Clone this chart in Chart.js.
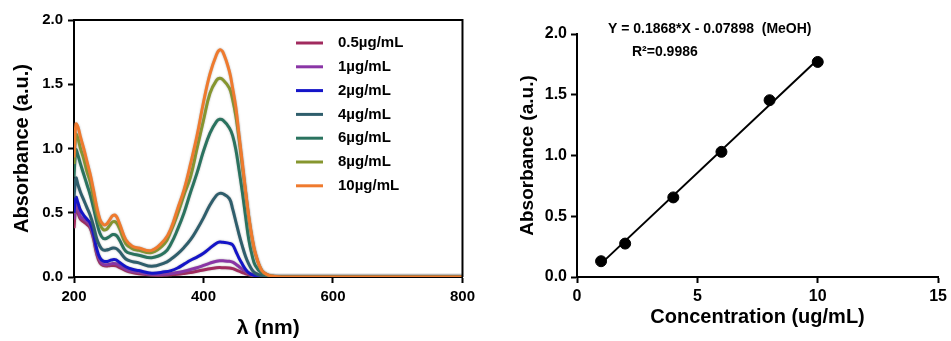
<!DOCTYPE html>
<html>
<head>
<meta charset="utf-8">
<script src="https://cdn.jsdelivr.net/npm/chart.js@4/dist/chart.umd.min.js"></script>
<style>
  html, body { margin: 0; padding: 0; background: #fff; }
  #wrap { position: relative; width: 951px; height: 341px; }
  .box { position: absolute; top: 0; height: 341px; }
  #left { left: 0; width: 480px; }
  #right { left: 480px; width: 471px; }
</style>
</head>
<body>
<div id="wrap">
  <div class="box" id="left"><canvas id="spectraChart"></canvas></div>
  <div class="box" id="right"><canvas id="calibChart"></canvas></div>
</div>
<script>
// Wavelength grid (nm) shared by all spectra
const wavelengths = [200, 203, 206, 210, 215, 220, 225, 230, 235, 240,
  245, 250, 255, 260, 265, 270, 280, 290, 300, 320,
  340, 350, 360, 370, 380, 390, 400, 410, 420, 425,
  430, 440, 445, 450, 455, 460, 465, 470, 475, 480,
  490, 500, 510, 520, 600, 700, 800];

// Absorbance spectra
const abs05 = [0.38, 0.55, 0.50, 0.45, 0.43, 0.41, 0.38, 0.30, 0.18, 0.11,
  0.09, 0.085, 0.088, 0.09, 0.088, 0.075, 0.05, 0.035, 0.025, 0.015,
  0.015, 0.018, 0.022, 0.028, 0.035, 0.045, 0.055, 0.065, 0.072, 0.073,
  0.072, 0.07, 0.065, 0.055, 0.045, 0.035, 0.025, 0.018, 0.012, 0.008,
  0.004, 0.002, 0.001, 0, 0, 0, 0];
const abs1 = [0.45, 0.57, 0.53, 0.47, 0.45, 0.43, 0.40, 0.32, 0.20, 0.13,
  0.10, 0.096, 0.10, 0.105, 0.103, 0.09, 0.06, 0.045, 0.036, 0.02,
  0.022, 0.028, 0.035, 0.045, 0.058, 0.072, 0.09, 0.108, 0.123, 0.127,
  0.126, 0.122, 0.115, 0.10, 0.08, 0.06, 0.045, 0.03, 0.02, 0.013,
  0.006, 0.003, 0.001, 0, 0, 0, 0];
const abs2 = [0.50, 0.62, 0.58, 0.52, 0.48, 0.45, 0.42, 0.34, 0.22, 0.15,
  0.125, 0.12, 0.127, 0.135, 0.133, 0.115, 0.08, 0.06, 0.05, 0.03,
  0.04, 0.05, 0.07, 0.10, 0.13, 0.155, 0.185, 0.225, 0.262, 0.272,
  0.27, 0.262, 0.25, 0.20, 0.145, 0.10, 0.06, 0.032, 0.018, 0.01,
  0.005, 0.002, 0.001, 0, 0, 0, 0];
const abs4 = [0.62, 0.77, 0.72, 0.66, 0.60, 0.54, 0.48, 0.40, 0.30, 0.24,
  0.21, 0.21, 0.217, 0.225, 0.222, 0.20, 0.14, 0.12, 0.11, 0.083,
  0.11, 0.14, 0.18, 0.23, 0.29, 0.37, 0.46, 0.56, 0.635, 0.651,
  0.648, 0.61, 0.53, 0.43, 0.33, 0.24, 0.16, 0.10, 0.055, 0.03,
  0.01, 0.004, 0.001, 0, 0, 0, 0];
const abs6 = [0.78, 0.99, 0.95, 0.88, 0.80, 0.72, 0.64, 0.54, 0.43, 0.34,
  0.30, 0.30, 0.315, 0.33, 0.325, 0.29, 0.20, 0.18, 0.17, 0.15,
  0.19, 0.26, 0.37, 0.50, 0.66, 0.81, 0.98, 1.12, 1.21, 1.227,
  1.22, 1.16, 1.10, 0.99, 0.83, 0.66, 0.47, 0.29, 0.17, 0.09,
  0.03, 0.008, 0.002, 0, 0, 0, 0];
const abs8 = [0.88, 1.11, 1.08, 1.00, 0.92, 0.82, 0.74, 0.62, 0.50, 0.41,
  0.37, 0.37, 0.40, 0.43, 0.425, 0.38, 0.26, 0.22, 0.207, 0.19,
  0.26, 0.36, 0.49, 0.64, 0.78, 1.00, 1.22, 1.43, 1.53, 1.546,
  1.535, 1.47, 1.38, 1.25, 1.07, 0.86, 0.66, 0.46, 0.30, 0.18,
  0.05, 0.015, 0.004, 0, 0, 0, 0];
const abs10 = [0.93, 1.19, 1.17, 1.09, 1.00, 0.90, 0.80, 0.68, 0.55, 0.45,
  0.41, 0.41, 0.445, 0.478, 0.475, 0.42, 0.29, 0.24, 0.225, 0.207,
  0.29, 0.38, 0.53, 0.68, 0.88, 1.10, 1.36, 1.58, 1.73, 1.767,
  1.75, 1.60, 1.47, 1.32, 1.10, 0.89, 0.67, 0.47, 0.31, 0.19,
  0.05, 0.015, 0.004, 0, 0, 0, 0];

const seriesLabels = ['0.5µg/mL', '1µg/mL', '2µg/mL', '4µg/mL', '6µg/mL', '8µg/mL', '10µg/mL'];
const seriesValues = [abs05, abs1, abs2, abs4, abs6, abs8, abs10];
const seriesColors = ['#a12a5e', '#8a35a6', '#1414c8', '#2f5e6c', '#2a735f', '#86962f', '#ef7a2e'];

// Calibration data
const concentrations = [1, 2, 4, 6, 8, 10];
const peakAbsorbance = [0.13, 0.275, 0.655, 1.03, 1.455, 1.77];
const fitX = [1, 10];
const fitY = [0.11, 1.79];

const FONT = "Arial, 'Liberation Sans', sans-serif";
Chart.defaults.font.family = FONT;
Chart.defaults.font.weight = 'bold';
Chart.defaults.color = '#000';

// Shared axis styling: outward tick marks, no grid
const axisStyle = {
    grid: { drawOnChartArea: false, drawTicks: true, tickLength: 6, tickWidth: 2, tickColor: '#000' },
    border: { display: true, color: '#000', width: 2 },
};

// Soft grey halo around the spectra lines
const halo = {
    id: 'halo',
    beforeDatasetsDraw(chart) {
        chart.ctx.save();
        chart.ctx.shadowColor = 'rgba(110,110,110,0.55)';
        chart.ctx.shadowBlur = 2;
    },
    afterDatasetsDraw(chart) {
        chart.ctx.restore();
    }
};

// Legend drawn inside the plot area
const insetLegend = {
    id: 'insetLegend',
    afterDatasetsDraw(chart) {
        const ctx = chart.ctx;
        ctx.save();
        ctx.font = `bold 15px ${FONT}`;
        ctx.textBaseline = 'middle';
        chart.data.datasets.forEach((ds, i) => {
            const y = 43 + i * 23.8;
            ctx.strokeStyle = ds.borderColor;
            ctx.lineWidth = 3;
            ctx.beginPath();
            ctx.moveTo(296, y);
            ctx.lineTo(323, y);
            ctx.stroke();
            ctx.fillStyle = '#000';
            ctx.fillText(ds.label, 338, y);
        });
        ctx.restore();
    }
};

// Top and right border of the spectra box
const frame = {
    id: 'frame',
    afterDraw(chart) {
        const { left, top, right, bottom } = chart.chartArea;
        const ctx = chart.ctx;
        ctx.save();
        ctx.strokeStyle = '#000';
        ctx.lineWidth = 2;
        ctx.beginPath();
        ctx.moveTo(left - 1, top);
        ctx.lineTo(right, top);
        ctx.lineTo(right, bottom);
        ctx.stroke();
        ctx.restore();
    }
};

// Regression text above the calibration plot
const fitText = {
    id: 'fitText',
    afterDraw(chart) {
        const ctx = chart.ctx;
        ctx.save();
        ctx.font = `bold 14px ${FONT}`;
        ctx.fillStyle = '#000';
        ctx.textBaseline = 'middle';
        ctx.fillText('Y = 0.1868*X - 0.07898  (MeOH)', 128, 29);
        ctx.fillText('R²=0.9986', 152, 52);
        ctx.restore();
    }
};

new Chart(document.getElementById('spectraChart'), {
    type: 'line',
    data: {
        datasets: seriesValues.map((vals, i) => ({
            label: seriesLabels[i],
            data: wavelengths.map((w, j) => ({ x: w, y: vals[j] })),
            borderColor: seriesColors[i],
            backgroundColor: seriesColors[i],
            borderWidth: 3,
            pointRadius: 0,
            tension: 0.4,
            order: seriesValues.length - 1 - i,
        })),
    },
    options: {
        responsive: true,
        maintainAspectRatio: false,
        animation: false,
        devicePixelRatio: 1,
        layout: { padding: { left: 0, right: 17, top: 20, bottom: 0 } },
        plugins: { legend: { display: false }, tooltip: { enabled: false } },
        scales: {
            x: {
                type: 'linear', min: 200, max: 800,
                ...axisStyle,
                ticks: { stepSize: 200, font: { size: 15, weight: 'bold' }, color: '#000', padding: 5 },
                title: { display: true, text: 'λ (nm)', font: { size: 21, weight: 'bold' }, color: '#000', padding: { top: 0, bottom: 0 } },
                afterFit: s => { s.height = 64; },
            },
            y: {
                min: 0, max: 2,
                ...axisStyle,
                ticks: { stepSize: 0.5, callback: v => v.toFixed(1), font: { size: 15, weight: 'bold' }, color: '#000', padding: 5 },
                title: { display: true, text: 'Absorbance (a.u.)', font: { size: 20, weight: 'bold' }, color: '#000', padding: { top: 10, bottom: 0 } },
                afterFit: s => { s.width = 74; },
            },
        },
    },
    plugins: [halo, frame, insetLegend],
});

new Chart(document.getElementById('calibChart'), {
    type: 'scatter',
    data: {
        datasets: [
            {
                label: 'Measured',
                data: concentrations.map((c, i) => ({ x: c, y: peakAbsorbance[i] })),
                backgroundColor: '#000',
                borderColor: '#000',
                pointRadius: 5.5,
            },
            {
                label: 'Fit',
                data: fitX.map((x, i) => ({ x, y: fitY[i] })),
                showLine: true,
                borderColor: '#000',
                borderWidth: 2,
                pointRadius: 0,
            },
        ],
    },
    options: {
        responsive: true,
        maintainAspectRatio: false,
        animation: false,
        devicePixelRatio: 1,
        layout: { padding: { left: 0, right: 11, top: 34, bottom: 0 } },
        plugins: { legend: { display: false }, tooltip: { enabled: false } },
        scales: {
            x: {
                type: 'linear', min: 0, max: 15,
                ...axisStyle,
                ticks: { stepSize: 5, font: { size: 16, weight: 'bold' }, color: '#000', padding: 4 },
                title: { display: true, text: 'Concentration (ug/mL)', font: { size: 20, weight: 'bold' }, color: '#000', padding: { top: 0, bottom: 12 } },
                afterFit: s => { s.height = 64; },
            },
            y: {
                min: 0, max: 2,
                ...axisStyle,
                ticks: { stepSize: 0.5, callback: v => v.toFixed(1), font: { size: 16, weight: 'bold' }, color: '#000', padding: 4 },
                title: { display: true, text: 'Absorbance (a.u.)', font: { size: 19, weight: 'bold' }, color: '#000', padding: { top: 36, bottom: 0 } },
                afterFit: s => { s.width = 97; },
            },
        },
    },
    plugins: [fitText],
});
</script>
</body>
</html>
